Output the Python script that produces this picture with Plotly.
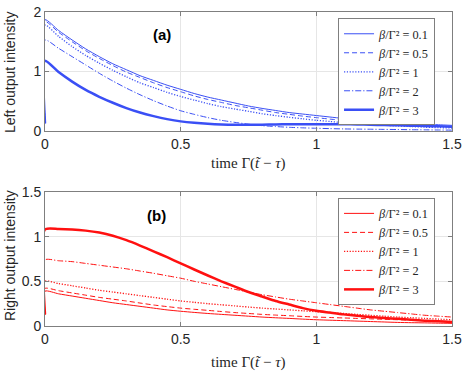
import plotly.graph_objects as go

# time axis (shared); the repeated 0 is the jump at t=0
t = [0, 0, 0.05, 0.1, 0.15, 0.2, 0.25, 0.3, 0.35, 0.4, 0.45, 0.5, 0.55, 0.6, 0.65, 0.7, 0.75,
     0.8, 0.85, 0.9, 0.95, 1.0, 1.05, 1.1, 1.15, 1.2, 1.25, 1.3, 1.35, 1.4, 1.45, 1.5]

labels = ['0.1', '0.5', '1', '2', '3']

# left output intensity, panel (a)
left_01 = [0.13, 1.87, 1.69, 1.53, 1.38, 1.25, 1.13, 1.03, 0.93, 0.85, 0.77, 0.70, 0.63, 0.57, 0.52, 0.47, 0.42,
           0.38, 0.345, 0.31, 0.285, 0.26, 0.235, 0.21, 0.19, 0.17, 0.155, 0.14, 0.127, 0.115, 0.105, 0.095]
left_05 = [0.13, 1.84, 1.66, 1.50, 1.35, 1.22, 1.10, 0.99, 0.90, 0.81, 0.73, 0.66, 0.59, 0.53, 0.48, 0.43, 0.39,
           0.35, 0.31, 0.28, 0.25, 0.225, 0.20, 0.18, 0.16, 0.145, 0.13, 0.115, 0.10, 0.09, 0.08, 0.07]
left_1 = [0.13, 1.78, 1.59, 1.42, 1.27, 1.14, 1.02, 0.91, 0.81, 0.73, 0.65, 0.58, 0.52, 0.46, 0.41, 0.37, 0.33,
          0.29, 0.26, 0.23, 0.205, 0.18, 0.16, 0.14, 0.125, 0.11, 0.097, 0.085, 0.075, 0.065, 0.057, 0.05]
left_2 = [0.13, 1.53, 1.39, 1.25, 1.11, 0.97, 0.84, 0.72, 0.61, 0.51, 0.42, 0.34, 0.28, 0.225, 0.18, 0.145, 0.115,
          0.09, 0.075, 0.062, 0.053, 0.046, 0.04, 0.035, 0.032, 0.03, 0.027, 0.025, 0.022, 0.02, 0.017, 0.015]
left_3 = [0.13, 1.18, 0.99, 0.83, 0.69, 0.575, 0.475, 0.385, 0.31, 0.25, 0.2, 0.162, 0.137, 0.12, 0.11, 0.105, 0.105,
          0.105, 0.11, 0.115, 0.115, 0.115, 0.115, 0.115, 0.11, 0.105, 0.10, 0.095, 0.09, 0.085, 0.078, 0.07]

# right output intensity, panel (b)
right_01 = [0.13, 0.39, 0.36, 0.335, 0.31, 0.285, 0.26, 0.24, 0.22, 0.20, 0.18, 0.165, 0.152, 0.14, 0.13, 0.12, 0.11,
            0.10, 0.092, 0.085, 0.077, 0.07, 0.065, 0.06, 0.055, 0.05, 0.045, 0.04, 0.037, 0.035, 0.032, 0.03]
right_05 = [0.13, 0.42, 0.395, 0.37, 0.345, 0.32, 0.30, 0.28, 0.257, 0.235, 0.217, 0.20, 0.187, 0.175, 0.162, 0.15, 0.14,
            0.13, 0.122, 0.115, 0.107, 0.10, 0.095, 0.09, 0.085, 0.08, 0.075, 0.07, 0.065, 0.06, 0.055, 0.05]
right_1 = [0.13, 0.50, 0.475, 0.45, 0.425, 0.40, 0.38, 0.36, 0.34, 0.32, 0.30, 0.28, 0.265, 0.25, 0.237, 0.225, 0.212,
           0.20, 0.19, 0.18, 0.17, 0.16, 0.15, 0.14, 0.13, 0.12, 0.11, 0.10, 0.092, 0.085, 0.077, 0.07]
right_2 = [0.13, 0.74, 0.73, 0.72, 0.70, 0.68, 0.66, 0.64, 0.615, 0.59, 0.562, 0.535, 0.50, 0.47, 0.44, 0.41, 0.38,
           0.35, 0.325, 0.30, 0.28, 0.26, 0.24, 0.22, 0.20, 0.18, 0.165, 0.15, 0.135, 0.12, 0.11, 0.10]
right_3 = [0.13, 1.08, 1.085, 1.08, 1.067, 1.045, 1.01, 0.96, 0.90, 0.835, 0.77, 0.70, 0.632, 0.565, 0.50, 0.44, 0.38,
           0.33, 0.28, 0.24, 0.20, 0.17, 0.15, 0.13, 0.115, 0.10, 0.09, 0.08, 0.07, 0.06, 0.052, 0.045]

blue = '#3a4ff5'
red = '#ff1010'
dashes = ['solid', '5px,3px', '1.2px,1.6px', '6px,2px,1.2px,2px', 'solid']
widths = [1, 1, 1.3, 1, 2.5]

fig = go.Figure()

def add_series(ys, color, xa, ya, legend):
    for lab, y, d, w in zip(labels, ys, dashes, widths):
        fig.add_trace(go.Scatter(
            x=t, y=y, mode='lines', xaxis=xa, yaxis=ya, legend=legend,
            name='<i>β</i>/Γ² = ' + lab,
            line=dict(color=color, width=w, dash=d, shape='spline', smoothing=0.6)))

add_series([left_01, left_05, left_1, left_2, left_3], blue, 'x', 'y', 'legend')
add_series([right_01, right_05, right_1, right_2, right_3], red, 'x2', 'y2', 'legend2')

axis_common = dict(
    showline=True, mirror='ticks', linecolor='#7f7f7f', linewidth=1,
    ticks='inside', ticklen=4, tickcolor='#7f7f7f', automargin=False,
    showgrid=True, gridcolor='#e6e6e6', zeroline=False,
    tickfont=dict(family='Liberation Sans, Arial', size=14, color='#262626'))

legend_style = dict(
    x=0.72, xanchor='left', bgcolor='white', bordercolor='#7f7f7f', borderwidth=1,
    font=dict(family='Liberation Serif, Times New Roman', size=12.3, color='#262626'),
    itemwidth=30, tracegroupgap=0, yanchor='top')

sans = dict(family='Liberation Sans, Arial', size=14, color='#262626')
serif = dict(family='Liberation Serif, Times New Roman', size=15, color='#262626')
xt = 'time Γ(<i>t\u0303</i> − <i>τ</i>)'

def title_note(text, x, y, font, angle=0):
    return dict(x=x, y=y, xref='paper', yref='paper', text=text, textangle=angle,
                xanchor='center', yanchor='middle', showarrow=False, font=font)

fig.update_layout(
    width=463, height=371,
    margin=dict(l=45, r=11, t=12, b=45),
    plot_bgcolor='white', paper_bgcolor='white',
    showlegend=True,
    xaxis=dict(domain=[0, 1], range=[0, 1.5], anchor='y', tickvals=[0, 0.5, 1, 1.5],
               ticktext=['0', '0.5', '1', '1.5'], **axis_common),
    yaxis=dict(domain=[0.621, 1], range=[0, 2], tickvals=[0, 1, 2], anchor='x', **axis_common),
    xaxis2=dict(domain=[0, 1], range=[0, 1.5], anchor='y2', tickvals=[0, 0.5, 1, 1.5],
                ticktext=['0', '0.5', '1', '1.5'], **axis_common),
    yaxis2=dict(domain=[0, 0.427], range=[0, 1.5], tickvals=[0, 0.5, 1, 1.5], anchor='x2',
                ticktext=['0', '0.5', '1', '1.5'], **axis_common),
    legend=dict(y=0.98, **legend_style),
    legend2=dict(y=0.408, **legend_style),
    annotations=[
        dict(x=0.43, y=1.62, xref='x', yref='y', text='<b>(a)</b>', showarrow=False,
             font=dict(family='Liberation Sans, Arial', size=15, color='black')),
        dict(x=0.41, y=1.24, xref='x2', yref='y2', text='<b>(b)</b>', showarrow=False,
             font=dict(family='Liberation Sans, Arial', size=15, color='black')),
        title_note('Left output intensity', -0.086, 0.809, sans, -90),
        title_note('Right output intensity', -0.086, 0.226, sans, -90),
        title_note(xt, 0.5, 0.519, serif),
        title_note(xt, 0.5, -0.115, serif),
    ],
)

fig.write_html("out.html", config={'displayModeBar': False},
               post_script="document.body.style.margin='0';")
